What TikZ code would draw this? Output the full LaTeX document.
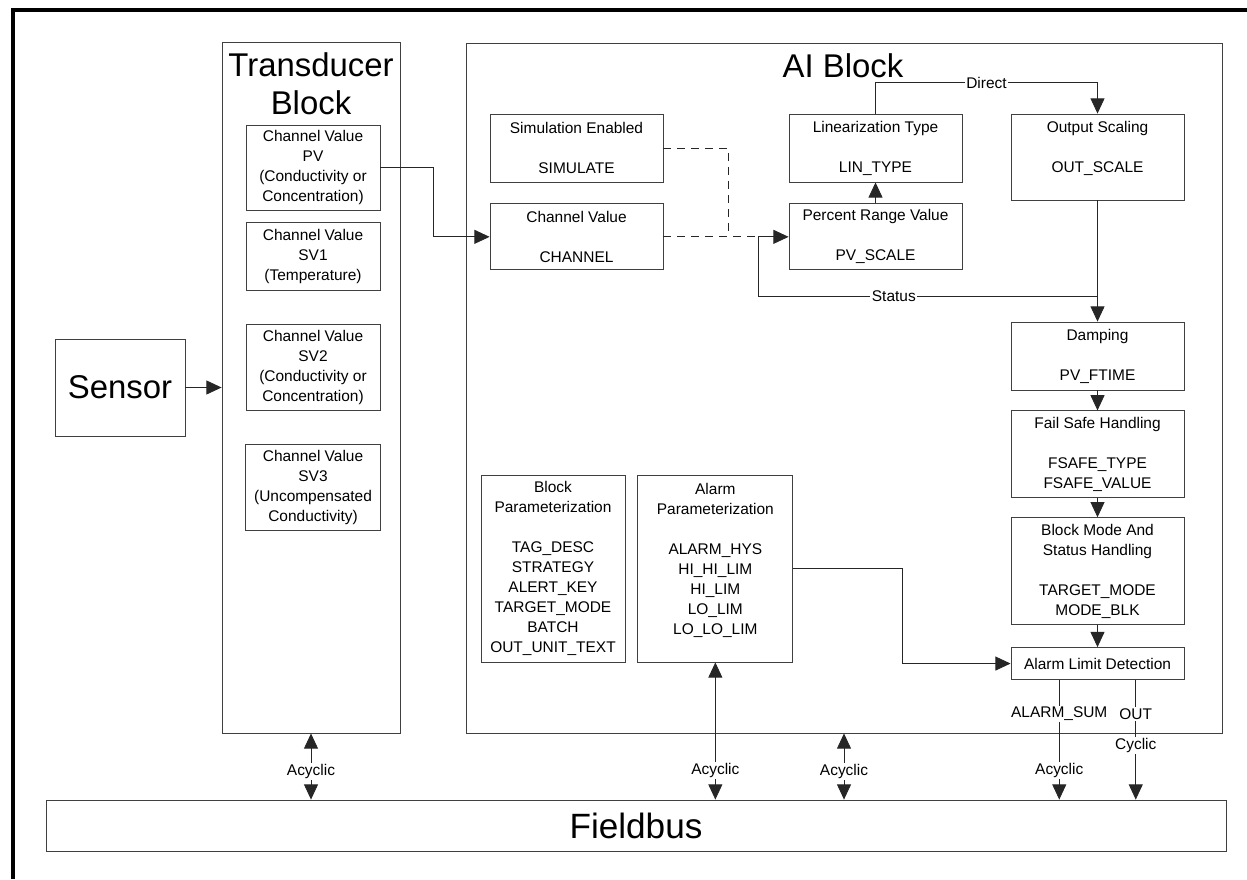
\documentclass[tikz,border=0pt]{standalone}
\usepackage{fontspec}
\setmainfont{Liberation Sans}
\usetikzlibrary{arrows.meta,positioning,calc}

\begin{document}
\begin{tikzpicture}[
        x = 0.25mm, y = -0.25mm, % one unit = one pixel of the sheet
        > = {Triangle[length=3.8mm, width=3.5mm]}, % filled arrow head
        line width = 0.6pt
      ]

      \tikzset{
        box/.style = {draw = black!75, align = center, inner sep = 0pt,
                      font = \fontsize{11}{14.2}\selectfont},
        title/.style = {align = center, inner sep = 0pt,
                        font = \fontsize{23.4}{27}\selectfont},
        lbl/.style = {fill = white, inner sep = 1pt,
                      font = \fontsize{11}{14.2}\selectfont},
        link/.style = {draw = black!85},
        dash link/.style = {link, dash pattern = on 2mm off 1.5mm}
      }

      \useasboundingbox (0,0) rectangle (1247,879);
      \draw[line width = 1mm] (13,879) |- (1247,10); % sheet frame

      % transducer side
      \node[box, minimum width = 44.5mm, minimum height = 172.75mm] (tb) at (311,387.5) {};
      \node[title] (tbtitle) at (311,84) {Transducer\\Block};
      \node[box, minimum width = 33.5mm, minimum height = 21.25mm] (pv) at (313,167.5)
        {Channel Value\\PV\\(Conductivity or\\Concentration)};
      \node[box, minimum width = 33.5mm, minimum height = 17mm] (sv1) [below = 3mm of pv]
        {Channel Value\\SV1\\(Temperature)};
      \node[box, minimum width = 33.5mm, minimum height = 21.5mm] (sv2) [below = 8.25mm of sv1]
        {Channel Value\\SV2\\(Conductivity or\\Concentration)};
      \node[box, minimum width = 33.75mm, minimum height = 21.5mm] (sv3) [below = 8.25mm of sv2]
        {Channel Value\\SV3\\(Uncompensated\\Conductivity)};
      \node[box, title, draw = black!75, minimum width = 32.5mm, minimum height = 24.25mm] (sensor) at (120,387.5) {Sensor};

      % AI block
      \node[box, minimum width = 189mm, minimum height = 172.5mm] (ai) at (844,388) {};
      \node[title] (aititle) at (843,66) {AI Block};
      \node[box, minimum width = 43.25mm, minimum height = 17mm] (sim) at (576.5,148)
        {Simulation Enabled\\ \\SIMULATE};
      \node[box, minimum width = 43.25mm, minimum height = 16.5mm] (chan) [below = 5.25mm of sim]
        {Channel Value\\ \\CHANNEL};
      \node[box, minimum width = 43.25mm, minimum height = 17mm] (lin) at (875.5,148)
        {Linearization Type\\ \\LIN\_TYPE};
      \node[box, minimum width = 43.25mm, minimum height = 16.5mm] (pct) [below = 5.25mm of lin]
        {Percent Range Value\\ \\PV\_SCALE};
      \node[box, minimum width = 43.25mm, minimum height = 21.5mm] (outsc) at (1097.5,157)
        {Output Scaling\\ \\OUT\_SCALE\\ ~};
      \node[box, minimum width = 43.25mm, minimum height = 17mm] (damp) at (1097.5,356)
        {Damping\\ \\PV\_FTIME};
      \node[box, minimum width = 43.25mm, minimum height = 21.75mm] (fs) [below = 5mm of damp]
        {Fail Safe Handling\\ \\FSAFE\_TYPE\\FSAFE\_VALUE};
      \node[box, minimum width = 43.25mm, minimum height = 26.75mm] (bm) [below = 4.75mm of fs]
        {Block Mode And\\Status Handling\\ \\TARGET\_MODE\\MODE\_BLK};
      \node[box, minimum width = 43.25mm, minimum height = 8mm] (ald) [below = 5.5mm of bm]
        {Alarm Limit Detection};
      \node[box, minimum width = 36mm, minimum height = 46.75mm] (bp) at (553,568.5)
        {Block\\Parameterization\\ \\TAG\_DESC\\STRATEGY\\ALERT\_KEY\\TARGET\_MODE\\BATCH\\OUT\_UNIT\_TEXT};
      \node[box, minimum width = 38.75mm, minimum height = 46.75mm] (ap) [right = 3mm of bp]
        {Alarm\\Parameterization\\ \\ALARM\_HYS\\HI\_HI\_LIM\\HI\_LIM\\LO\_LIM\\LO\_LO\_LIM\\ ~};

      % bus
      \node[box, title, draw = black!75, minimum width = 295mm, minimum height = 12.75mm,
            font = \fontsize{25}{29}\selectfont] (fb) at (636,825.5) {Fieldbus};

      \coordinate (dj) at ($(chan.east)!0.52!(pct.west)$);
      \coordinate (stj) at ($(outsc.south)!0.79!(damp.north)$);
      \coordinate (asum) at ($(ald.south west)!0.28!(ald.south east)$);
      \coordinate (aout) at ($(ald.south west)!0.72!(ald.south east)$);

      \draw[link, ->] (sensor.east) -- (sensor.east -| tb.west);
      \draw[link, ->] (pv.east) -- ++(53,0) |- (chan.west);

      \draw[dash link] (sim.east) -| (dj);
      \draw[dash link] (chan.east) -- (pct.west);
      \draw[link, ->] (stj) -- node[lbl, pos = 0.6] {Status} ++(-339.5,0) |- (pct.west);
      \draw[link, ->] (pct.north) -- (lin.south);
      \draw[link, ->] (lin.north) -- ++(0,-31) -| node[lbl, pos = 0.25] {Direct} (outsc.north);

      \draw[link, ->] (outsc.south) -- (damp.north);
      \draw[link, ->] (damp.south) -- (fs.north);
      \draw[link, ->] (fs.south) -- (bm.north);
      \draw[link, ->] (bm.south) -- (ald.north);
      \draw[link, ->] (ap.east) -- ++(109,0) |- (ald.west);

      \draw[link, ->] (asum) -- node[lbl, pos = 0.285] {ALARM\_SUM}
                                node[lbl, pos = 0.76] {Acyclic} (asum |- fb.north);
      \draw[link, ->] (aout) -- node[lbl, pos = 0.285] {OUT}
                                node[lbl, pos = 0.55] {Cyclic} (aout |- fb.north);

      \draw[link, <->] (tb.south) -- node[lbl, pos = 0.57] {Acyclic} (tb.south |- fb.north);
      \draw[link, <->] (ap.south) -- node[lbl, pos = 0.79] {Acyclic} (ap.south |- fb.north);
      \draw[link, <->] (ai.south) -- node[lbl, pos = 0.57] {Acyclic} (ai.south |- fb.north);
  \end{tikzpicture}
\end{document}
